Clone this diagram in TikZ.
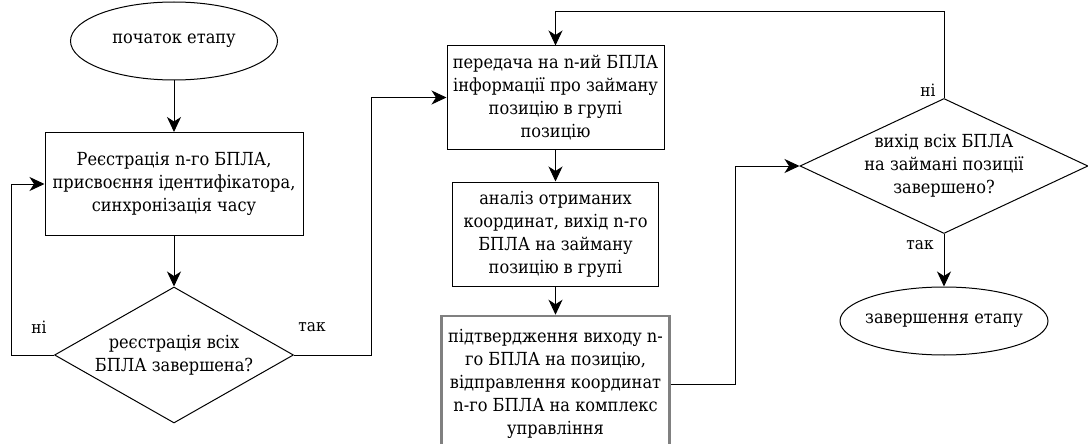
\documentclass[tikz,border=0pt]{standalone}
\usepackage{fontspec}
\setmainfont{DejaVu Serif Condensed}
\usetikzlibrary{shapes.geometric, arrows.meta, positioning}
\definecolor{framegray}{RGB}{128, 128, 128}

\tikzset{
  procbox/.style={draw, line width=1pt, align=center, inner sep=0pt, font=\fontsize{18}{23}\selectfont},
  termnode/.style={draw, ellipse, line width=1pt, inner xsep=-12pt, inner ysep=0pt, font=\fontsize{18}{23}\selectfont},
  decision/.style={draw, diamond, line width=1pt, align=center, inner sep=-4pt, font=\fontsize{18}{23}\selectfont},
  flowarrow/.style={line width=1pt, -{Stealth[length=15pt, width=14pt, inset=4.5pt]}},
  branchlbl/.style={font=\fontsize{17}{20}\selectfont}
}

\begin{document}
\begin{tikzpicture}[x=1pt, y=1pt]
  \useasboundingbox (0, 0) rectangle (1088, -444);

  % Left column
  \node[termnode, minimum width=207pt, minimum height=78pt] (start) at (174, -41) {початок етапу};
  \node[procbox, minimum width=258pt, minimum height=103pt] (reg) at (174, -184) {Реєстрація n-го БПЛА,\\присвоєння ідентифікатора,\\синхронізація часу};
  \node[decision, aspect=1.76, minimum width=239pt, minimum height=136pt] (regdone) at (174, -355) {реєстрація всіх\\БПЛА завершена?};

  \draw[flowarrow] (start) -- (reg);
  \draw[flowarrow] (reg) -- (regdone);

  % Middle column
  \node[procbox, minimum width=217pt, minimum height=103pt] (send) at (555.5, -97.5) {передача на n-ий БПЛА\\інформації про займану\\позицію в групі\\позицію};
  \node[procbox, minimum width=206pt, minimum height=104pt] (anal) at (555.5, -234) {аналіз отриманих\\координат, вихід n-го\\БПЛА на займану\\позицію в групі};
  \node[procbox, draw=framegray, line width=2.5pt, minimum width=228pt, minimum height=136pt] (confirm) at (555.5, -384) {підтвердження виходу n-\\го БПЛА на позицію,\\відправлення координат\\n-го БПЛА на комплекс\\управління};

  \draw[flowarrow] (send) -- (anal);
  \draw[flowarrow] (anal) -- (confirm);

  % Right column
  \node[decision, aspect=2.13, minimum width=288pt, minimum height=135pt] (alldone) at (944, -166) {вихід всіх БПЛА\\на займані позиції\\завершено?};
  \node[termnode, minimum width=208pt, minimum height=68pt] (finish) at (944, -321) {завершення етапу};

  \draw[flowarrow] (alldone) -- (finish);

  % Branches
  \draw[flowarrow] (regdone.west) -- (11, -355) |- (reg.west);
  \node[branchlbl] (regno) at (39, -327) {ні};
  \draw[flowarrow] (regdone.east) -- (371, -355) |- (send.west);
  \node[branchlbl] (regyes) at (312, -327) {так};
  \draw[flowarrow] (confirm.east) -- (735, -384) |- (alldone.west);
  \draw[flowarrow] (alldone.north) -- (944, -12) -| (send.north);
  \node[branchlbl] (doneno) at (928, -90) {ні};
  \node[branchlbl] (doneyes) at (920, -245) {так};
\end{tikzpicture}
\end{document}
